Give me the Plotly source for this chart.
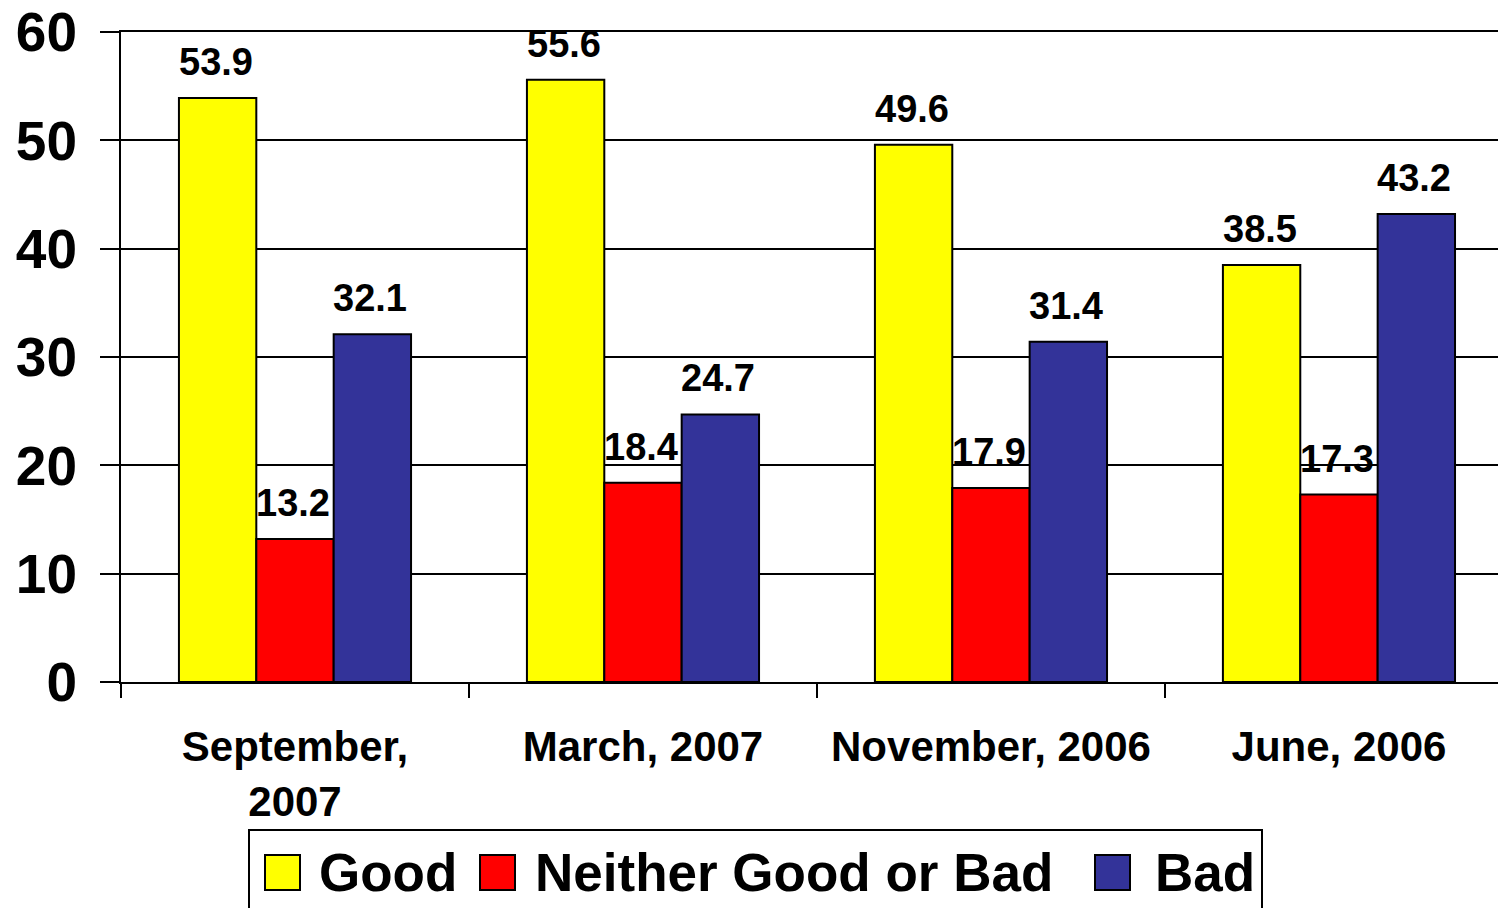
import plotly.graph_objects as go

categories = ["September,<br>2007", "March, 2007", "November, 2006", "June, 2006"]
series_names = ["Good", "Neither Good or Bad", "Bad"]
good = [53.9, 55.6, 49.6, 38.5]
neither = [13.2, 18.4, 17.9, 17.3]
bad = [32.1, 24.7, 31.4, 43.2]
colors = ["#FFFF00", "#FF0000", "#333399"]
y_ticks = [0, 10, 20, 30, 40, 50, 60]

# body margin is removed by the post script, so page pixels == figure pixels
OFF = 0
W, H = 1498, 908
ML, MR, MT = 121, 0, 32
PH = 650
MB = H - MT - PH
PW = W - ML - MR
FONT = "Liberation Sans, Arial, sans-serif"

x_range = [-0.5, 3.457]
bargap = 0.333
px_per_cat = PW / (x_range[1] - x_range[0])
bar_w = px_per_cat * (1 - bargap) / 3

fig = go.Figure()
all_series = [good, neither, bad]
for name, vals, col in zip(series_names, all_series, colors):
    fig.add_trace(go.Bar(
        x=categories, y=vals, name=name,
        marker=dict(color=col, line=dict(color="black", width=2)),
        showlegend=False,
    ))

annotations = []
for si, vals in enumerate(all_series):
    for cat, v in zip(categories, vals):
        annotations.append(dict(
            x=cat, y=v, xref="x", yref="y",
            text=f"{v:.1f}", showarrow=False,
            xshift=(si - 1) * bar_w - 2, yshift=36,
            yanchor="middle", xanchor="center",
            font=dict(family=FONT, size=38, color="black", weight="bold"),
        ))

# manual legend (page pixel positions -> paper coords)
def px_x(p):
    return (p - OFF - ML) / PW

def px_y(p):
    return (H - MB - (p - OFF)) / PH

shapes = [dict(type="rect", xref="paper", yref="paper",
               x0=px_x(249), x1=px_x(1262), y0=px_y(930), y1=px_y(830),
               line=dict(color="black", width=2), fillcolor="white", layer="below")]
leg_sq = [265, 480, 1095]
leg_tx = [317, 533, 1153]
for name, col, sx, tx in zip(series_names, colors, leg_sq, leg_tx):
    shapes.append(dict(type="rect", xref="paper", yref="paper",
                       x0=px_x(sx), x1=px_x(sx + 35), y0=px_y(890), y1=px_y(855),
                       line=dict(color="black", width=2), fillcolor=col))
    annotations.append(dict(
        x=px_x(tx), y=px_y(872), xref="paper", yref="paper",
        text=name, showarrow=False, xanchor="left", yanchor="middle",
        font=dict(family=FONT, size=53, color="black", weight="bold"),
    ))

fig.update_layout(
    width=W, height=H,
    margin=dict(l=ML, r=MR, t=MT, b=MB, pad=0, autoexpand=False),
    paper_bgcolor="white", plot_bgcolor="white",
    barmode="group", bargap=bargap, bargroupgap=0,
    showlegend=False,
    shapes=shapes, annotations=annotations,
    font=dict(family=FONT, color="black"),
)
fig.update_xaxes(
    range=x_range, tickson="boundaries", ticks="outside", ticklen=14,
    tickwidth=2, tickcolor="black", showline=True, linecolor="black", linewidth=2,
    mirror=True, automargin=False,
    showgrid=False, tickangle=0,
    tickfont=dict(family=FONT, size=42, color="black", weight="bold"),
    ticklabelstandoff=27,
)
fig.update_yaxes(
    range=[0, 60], tickvals=y_ticks, ticks="outside", ticklen=19, tickwidth=2,
    tickcolor="black", showline=True, linecolor="black", linewidth=2,
    showgrid=True, gridcolor="black", gridwidth=2, zeroline=False,
    automargin=False,
    tickfont=dict(family=FONT, size=55, color="black", weight="bold"),
    ticklabelstandoff=12, ticklabeloverflow="allow",
)

fig.write_html(
    "out.html",
    config={"displayModeBar": False},
    post_script="document.body.style.margin='0px';document.body.style.overflow='hidden';",
)
